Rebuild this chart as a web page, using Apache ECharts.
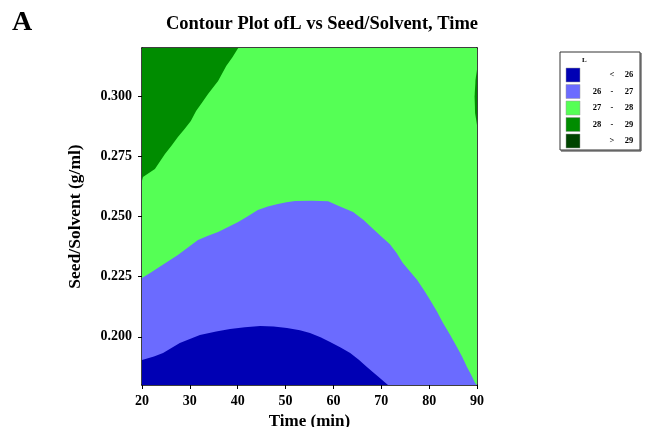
<!DOCTYPE html>
<html><head><meta charset="utf-8">
<script src="https://cdn.jsdelivr.net/npm/echarts@6/dist/echarts.min.js"></script>
<style>html,body{margin:0;padding:0;background:#fff}#c{width:648px;height:427px}</style>
</head><body><div id="c"></div>
<script>
// Axis ranges and ticks
const xRange = [20, 90];
const yRange = [0.18, 0.32];
const xTicks = [20, 30, 40, 50, 60, 70, 80, 90];
const yTicks = [0.200, 0.225, 0.250, 0.275, 0.300];

// Contour boundaries: [Time, Seed/Solvent]
const b26 = [[20,0.1904],[22.5,0.1918],[24.4,0.1933],[27.9,0.1974],[32.1,0.2008],[35.5,0.2022],[38.4,0.2033],[41.5,0.2040],[44.7,0.2045],[47.5,0.2043],[50.3,0.2037],[53,0.2027],[55.1,0.2016],[57.3,0.1998],[59.3,0.1979],[61.5,0.1956],[63.5,0.1933],[65.3,0.1905],[67.0,0.1875],[68.4,0.1851],[69.7,0.1829],[70.6,0.1814],[71.4,0.18]];
const b27 = [[20,0.2244],[21.7,0.2265],[23.3,0.2286],[25.4,0.2313],[27.5,0.2340],[29.6,0.2371],[31.7,0.2402],[33.8,0.2420],[35.9,0.2436],[38.0,0.2456],[40.1,0.2477],[42.2,0.2502],[44.2,0.2527],[46.3,0.2542],[48.4,0.2552],[50.2,0.2559],[52.0,0.2564],[55.5,0.2565],[58.9,0.2563],[61.0,0.2545],[64.1,0.2519],[66.3,0.2485],[68.3,0.2448],[70.0,0.2417],[71.8,0.2385],[73.2,0.2348],[74.5,0.2307],[76.0,0.2272],[77.5,0.2236],[78.9,0.2195],[80.2,0.2153],[81.6,0.2106],[82.9,0.2058],[84.4,0.2008],[85.8,0.1958],[86.9,0.1917],[87.9,0.1875],[88.8,0.1842],[89.6,0.1808],[90,0.18]];
const b28left = [[20,0.2648],[20.2,0.2664],[22.7,0.2697],[24.8,0.2760],[26.2,0.2795],[27.5,0.2830],[28.9,0.2864],[30.2,0.2897],[31.3,0.2938],[32.6,0.2975],[33.8,0.3009],[35.9,0.3063],[37.6,0.3125],[38.9,0.3162],[40.1,0.32]];
const b28right = [[90,0.311],[89.7,0.307],[89.5,0.300],[89.6,0.293],[90,0.288]];

// Legend
const legendTitle = 'L';
const legendLow = ['', '26', '27', '28', ''];
const legendSep = ['<', '-', '-', '-', '>'];
const legendHigh = ['26', '27', '28', '29', '29'];
const levelColors = ['#0000B4', '#6B6BFF', '#55FF55', '#008C00', '#004400'];

const [x0, x1] = xRange, [y0, y1] = yRange;
const regions = [
  { color: levelColors[2], pts: [[x0,y0],[x1,y0],[x1,y1],[x0,y1]] },
  { color: levelColors[1], pts: b27.concat([[x0,y0]]) },
  { color: levelColors[0], pts: b26.concat([[x0,y0]]) },
  { color: levelColors[3], pts: b28left.concat([[x0,y1]]) },
  { color: levelColors[3], pts: b28right }
];

const serif = 'Liberation Serif';
const chart = echarts.init(document.getElementById('c'), null, { renderer: 'canvas' });

const legendGraphics = [
  { type: 'rect', shape: { x: 560, y: 52, width: 80, height: 98 }, style: { fill: '#fff', stroke: '#333', lineWidth: 1 } },
  { type: 'polyline', shape: { points: [[561, 151], [641, 151], [641, 53]] }, style: { stroke: '#333', lineWidth: 1, fill: null } },
  { type: 'text', x: 582, y: 57, style: { text: legendTitle, font: 'bold 7px ' + serif, fill: '#000' } }
];
levelColors.forEach((c, i) => {
  const y = 68 + i * 16.5;
  legendGraphics.push({ type: 'rect', shape: { x: 566, y: y, width: 14, height: 14 }, style: { fill: c, stroke: '#999', lineWidth: 0.5 } });
  const ty = y + 7;
  legendGraphics.push({ type: 'text', x: 597, y: ty, style: { text: legendLow[i], font: 'bold 8.5px ' + serif, fill: '#000', align: 'center', verticalAlign: 'middle' } });
  legendGraphics.push({ type: 'text', x: 612, y: ty, style: { text: legendSep[i], font: 'bold 8.5px ' + serif, fill: '#000', align: 'center', verticalAlign: 'middle' } });
  legendGraphics.push({ type: 'text', x: 629, y: ty, style: { text: legendHigh[i], font: 'bold 8.5px ' + serif, fill: '#000', align: 'center', verticalAlign: 'middle' } });
});
legendGraphics.push({ type: 'text', x: 12, y: 9, style: { text: 'A', font: 'bold 28px ' + serif, fill: '#000' } });

const axisCommon = {
  type: 'value', splitLine: { show: false },
  axisLine: { show: true, lineStyle: { color: '#000', width: 1.5 } }
};

chart.setOption({
  animation: false,
  backgroundColor: '#fff',
  title: {
    text: 'Contour Plot ofL vs Seed/Solvent, Time', left: 317, top: 10, textAlign: 'center',
    textStyle: { fontFamily: serif, fontWeight: 'bold', fontSize: 18.5, color: '#000' }
  },
  grid: { left: 142, right: 171, top: 48, bottom: 42, containLabel: false, outerBoundsMode: 'none' },
  xAxis: [
    Object.assign({}, axisCommon, {
      min: x0, max: x1, interval: 10, position: 'bottom',
      name: 'Time (min)', nameLocation: 'middle', nameGap: 26,
      nameTextStyle: { fontFamily: serif, fontWeight: 'bold', fontSize: 17, color: '#000' },
      axisTick: { show: true, length: 4, lineStyle: { color: '#000' } },
      axisLabel: { color: '#000', fontFamily: serif, fontWeight: 'bold', fontSize: 14, margin: 9 }
    }),
    Object.assign({}, axisCommon, {
      min: x0, max: x1, position: 'top', axisTick: { show: false }, axisLabel: { show: false }
    })
  ],
  yAxis: [
    Object.assign({}, axisCommon, {
      min: y0, max: y1, position: 'left',
      name: 'Seed/Solvent (g/ml)', nameLocation: 'middle', nameGap: 58, nameRotate: 90,
      nameTextStyle: { fontFamily: serif, fontWeight: 'bold', fontSize: 17.5, color: '#000' },
      axisTick: { show: true, length: 4, customValues: yTicks, lineStyle: { color: '#000' } },
      axisLabel: { color: '#000', fontFamily: serif, fontWeight: 'bold', fontSize: 14, margin: 10,
        customValues: yTicks, formatter: v => v.toFixed(3) }
    }),
    Object.assign({}, axisCommon, {
      min: y0, max: y1, position: 'right', axisTick: { show: false }, axisLabel: { show: false }
    })
  ],
  graphic: legendGraphics,
  series: regions.map((r, i) => ({
    type: 'custom', xAxisIndex: 0, yAxisIndex: 0, z: 1 + i * 0.01, clip: true,
    data: [0], silent: true,
    renderItem: (params, api) => ({
      type: 'polygon',
      shape: { points: r.pts.map(p => api.coord(p)) },
      style: { fill: r.color, stroke: null }
    })
  }))
});
</script></body></html>
